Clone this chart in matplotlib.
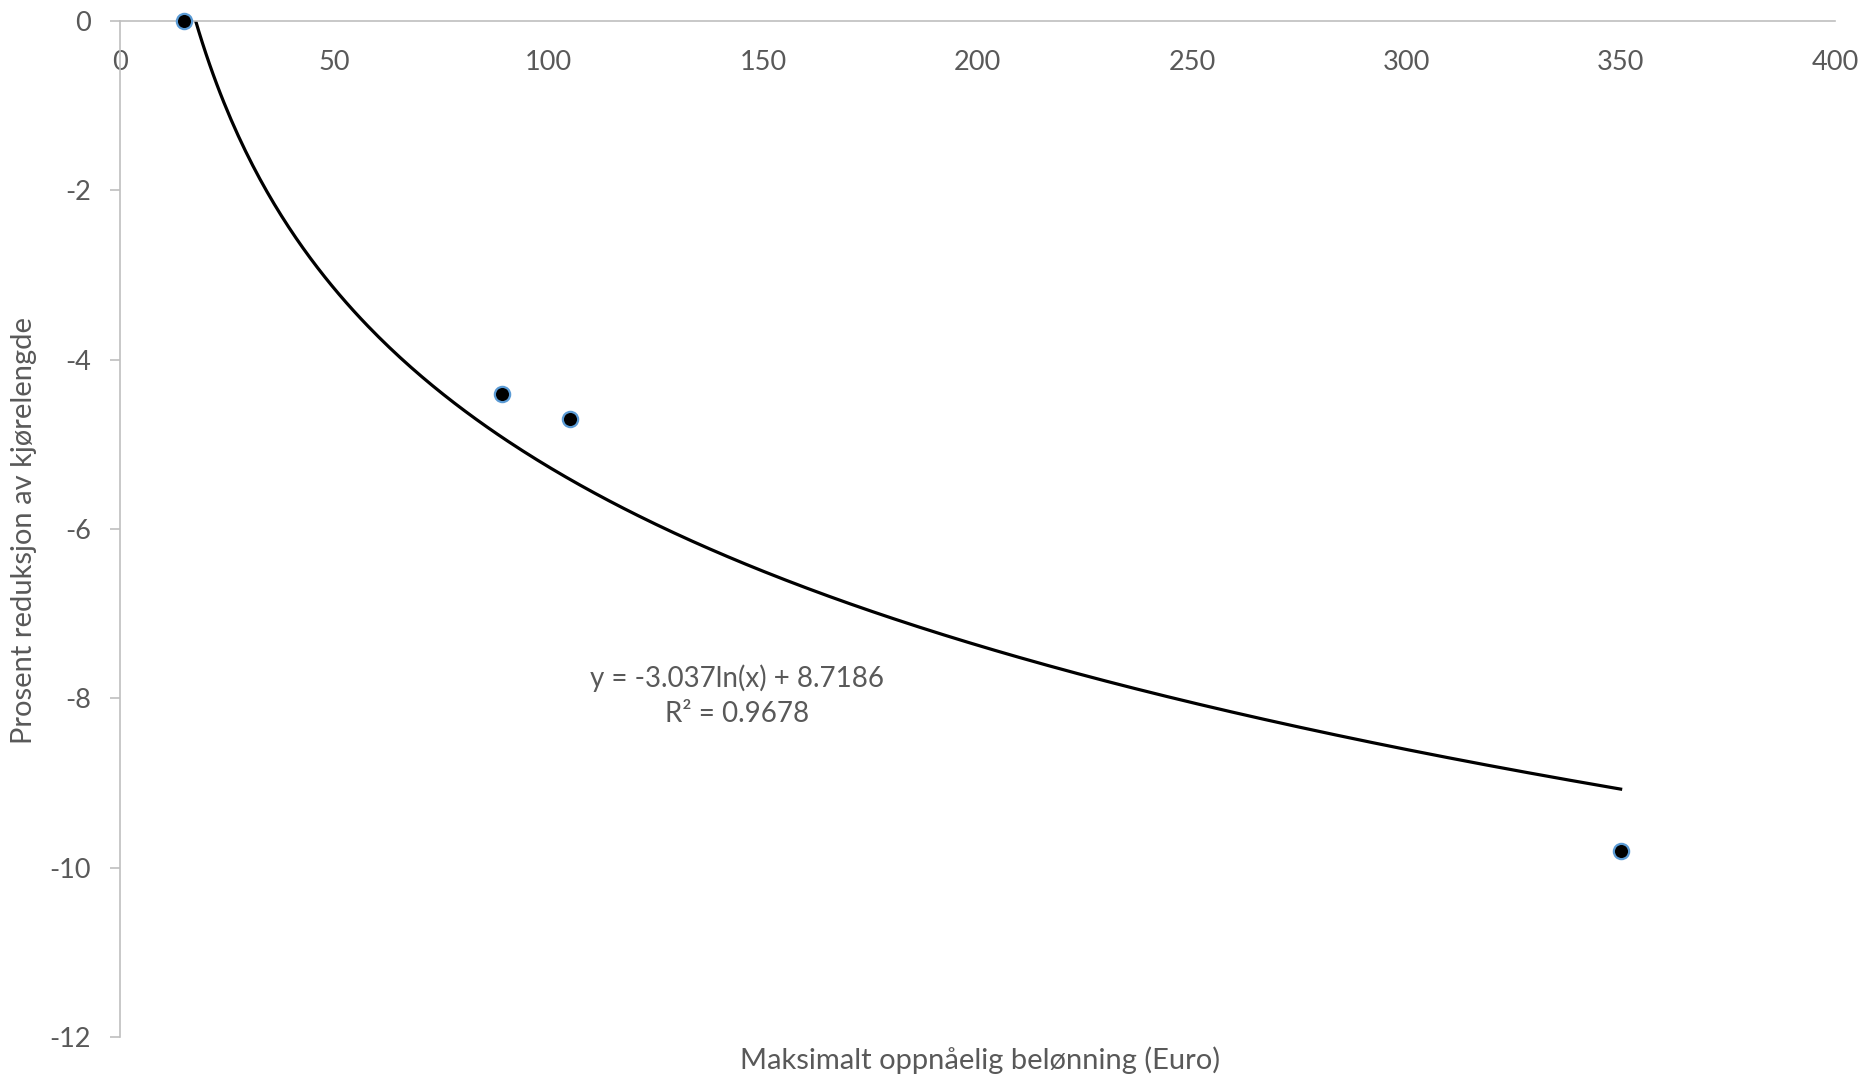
import numpy as np
import matplotlib
matplotlib.use('Agg')
import matplotlib.pyplot as plt

# Data points
reward_euro = [15, 89, 105, 350]
reduction_pct = [0.0, -4.4, -4.7, -9.8]

# Logarithmic trendline as printed on the chart
trend_a = -3.037
trend_b = 8.7186
r_squared = 0.9678

x_ticks = [0, 50, 100, 150, 200, 250, 300, 350, 400]
y_ticks = [0, -2, -4, -6, -8, -10, -12]

TEXT = '#595959'
SPINE = '#BFBFBF'
FONT = 'Lato'

plt.rcParams['font.family'] = [FONT, 'DejaVu Sans']

fig = plt.figure(figsize=(18.66, 10.81), dpi=100)
ax = fig.add_axes([120 / 1866, 1 - 1037 / 1081, (1835 - 120) / 1866, (1037 - 21) / 1081])

# trendline spans the data range, clipped by the axes at y=0
xs = np.linspace(min(reward_euro), max(reward_euro), 400)
ax.plot(xs, trend_a * np.log(xs) + trend_b, color='black', linewidth=2.3, zorder=2)

ax.plot(reward_euro, reduction_pct, linestyle='none', marker='o', markersize=11,
        markerfacecolor='black', markeredgecolor='#5B9BD5', markeredgewidth=1.6,
        clip_on=False, zorder=3)

ax.set_xlim(0, 400)
ax.set_ylim(-12, 0)
ax.set_xticks(x_ticks)
ax.set_yticks(y_ticks)
ax.set_yticklabels([str(v) for v in y_ticks])

for side in ['top', 'right']:
    ax.spines[side].set_visible(False)
ax.spines['bottom'].set_position(('data', 0))
ax.spines['bottom'].set_color(SPINE)
ax.spines['left'].set_color(SPINE)
ax.spines['bottom'].set_linewidth(1.2)
ax.spines['left'].set_linewidth(1.2)

ax.tick_params(axis='x', length=0, pad=21, labelsize=19.5, labelcolor=TEXT)
ax.tick_params(axis='y', length=7, width=1.2, color=SPINE, pad=14, labelsize=19.5, labelcolor=TEXT)

ax.text(144, -7.97, f'y = {trend_a}ln(x) + {trend_b}\nR² = {r_squared}',
        ha='center', va='center', multialignment='center', fontsize=20,
        color=TEXT, linespacing=1.4)

fig.text(980 / 1866, 1 - 1060 / 1081, 'Maksimalt oppnåelig belønning (Euro)',
         ha='center', va='center', fontsize=21, color=TEXT)
fig.text(24 / 1866, 1 - 530 / 1081, 'Prosent reduksjon av kjørelengde',
         ha='center', va='center', rotation=90, fontsize=21, color=TEXT)

fig.savefig('out.png', dpi=100)
